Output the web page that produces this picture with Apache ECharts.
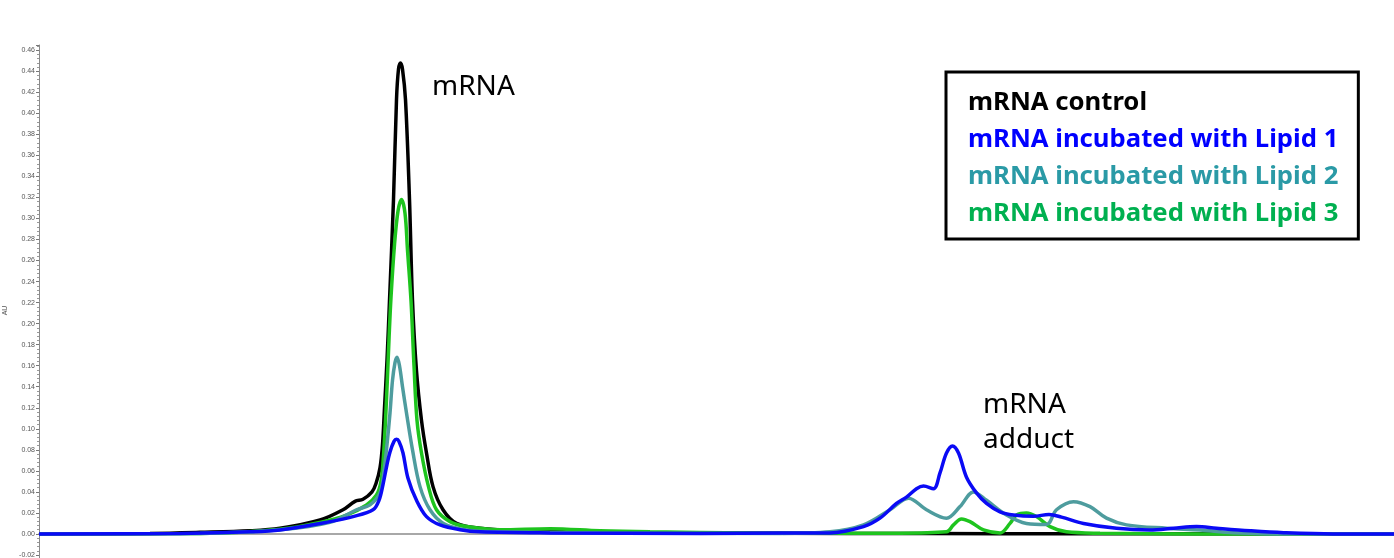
<!DOCTYPE html>
<html>
<head>
<meta charset="utf-8">
<script src="https://cdn.jsdelivr.net/npm/echarts@6/dist/echarts.min.js"></script>
<style>
html,body{margin:0;padding:0;background:#fff;overflow:hidden;}
#chart{width:1394px;height:558px;}
</style>
</head>
<body>
<div id="chart"></div>
<script>
// Retention time (arbitrary units) and absorbance (AU)
const seriesNames = ['mRNA control', 'mRNA incubated with Lipid 1', 'mRNA incubated with Lipid 2', 'mRNA incubated with Lipid 3'];

const controlData = [
  [0.00,0],[2.22,0.0005],[3.22,0.0015],[4.22,0.003],[4.82,0.0054],[5.62,0.0133],[6.08,0.023],
  [6.32,0.031],[6.48,0.033],[6.66,0.040],[6.74,0.048],[6.82,0.063],[6.87,0.085],[6.91,0.12],[6.96,0.165],[7.01,0.222],[7.09,0.318],
  [7.15,0.413],[7.19,0.442],[7.23,0.448],[7.27,0.442],[7.33,0.413],[7.41,0.318],[7.47,0.222],[7.55,0.155],[7.65,0.108],[7.75,0.077],
  [7.88,0.045],[8.08,0.023],[8.35,0.010],[8.82,0.0054],[9.62,0.003],[11.22,0.0015],[13.22,0.001],
  [16.22,0.0005],[19.22,0.0002],[27.10,0]
];

const lipid1Data = [
  [0.00,0],[2.82,0.0005],[4.22,0.002],[4.82,0.0038],[5.82,0.0117],[6.28,0.0165],[6.68,0.023],
  [6.80,0.032],[6.88,0.047],[6.96,0.066],[7.02,0.078],[7.10,0.088],[7.15,0.090],[7.20,0.088],[7.28,0.077],[7.38,0.053],[7.55,0.032],[7.75,0.0165],
  [8.02,0.0086],[8.42,0.004],[8.82,0.002],[10.22,0.001],[13.22,0.0005],[14.82,0.0008],[15.82,0.001],
  [16.49,0.007],[16.82,0.015],[17.15,0.029],[17.35,0.035],[17.55,0.043],[17.69,0.0456],[17.89,0.043],
  [18.02,0.058],[18.15,0.077],[18.27,0.0837],[18.39,0.077],[18.55,0.054],[18.75,0.039],[18.95,0.029],
  [19.22,0.021],[19.49,0.018],[19.89,0.0168],[20.20,0.0185],[20.45,0.016],[20.89,0.010],[21.55,0.0054],
  [22.22,0.0038],[22.69,0.0054],[23.15,0.007],[23.55,0.0054],[24.22,0.003],[24.89,0.0012],[25.88,0],[27.10,0]
];

const lipid2Data = [
  [0.00,0],[3.22,0.0005],[4.82,0.004],[5.82,0.011],[6.35,0.023],[6.62,0.0276],[6.82,0.039],
  [6.90,0.06],[6.96,0.085],[7.02,0.115],[7.07,0.146],[7.12,0.163],[7.16,0.168],[7.21,0.160],[7.27,0.140],
  [7.36,0.112],[7.47,0.080],[7.62,0.045],[7.82,0.023],[8.09,0.010],[8.55,0.0038],[9.22,0.002],
  [11.22,0.001],[14.82,0.0005],[15.82,0.002],[16.49,0.0086],[17.02,0.023],[17.39,0.034],[17.75,0.023],
  [18.15,0.015],[18.42,0.026],[18.69,0.040],[18.95,0.032],[19.35,0.018],[19.75,0.010],[20.15,0.009],
  [20.35,0.023],[20.69,0.0307],[21.02,0.026],[21.35,0.015],[21.75,0.0086],[22.55,0.0054],[23.22,0.0038],
  [23.88,0.0012],[25.22,0],[27.10,0]
];

const lipid3Data = [
  [0.00,0],[3.22,0.0005],[4.82,0.0045],[5.62,0.011],[6.15,0.018],[6.55,0.0276],[6.75,0.037],
  [6.84,0.05],[6.89,0.075],[6.93,0.108],[6.97,0.15],[7.00,0.185],[7.04,0.225],[7.11,0.275],[7.18,0.307],[7.25,0.318],
  [7.32,0.305],[7.37,0.27],[7.44,0.222],[7.50,0.16],[7.56,0.108],[7.65,0.077],[7.79,0.045],[7.95,0.023],
  [8.22,0.0117],[8.55,0.007],[9.22,0.004],[10.22,0.005],[11.22,0.003],[12.22,0.002],[14.22,0.001],
  [17.22,0.0007],[18.15,0.002],[18.29,0.0086],[18.45,0.0143],[18.62,0.0117],[18.89,0.0038],[19.22,0.001],
  [19.42,0.010],[19.55,0.018],[19.75,0.020],[19.95,0.0165],[20.22,0.007],[20.55,0.002],[21.22,0.0007],
  [23.22,0],[27.10,0]
];

const lineColors = ['#000000', '#0a0af5', '#4e9c9e', '#1ec41e'];
const legendColors = ['#000000', '#0000ff', '#2a9aa6', '#00b050'];
const peakLabel = 'mRNA';
const adductLabel = 'mRNA\nadduct';

const chart = echarts.init(document.getElementById('chart'));
const datasets = [controlData, lipid1Data, lipid2Data, lipid3Data];
const drawOrder = [0, 3, 2, 1];

chart.setOption({
  animation: false,
  backgroundColor: '#ffffff',
  grid: { left: 39, top: 45, right: 0, bottom: -18, containLabel: false, outerBoundsMode: 'none' },
  xAxis: {
    type: 'value', min: 0, max: 27.1, position: 'top',
    axisLine: { show: true, lineStyle: { color: '#a8a8a8', width: 2 } },
    axisTick: { show: false }, axisLabel: { show: false }, splitLine: { show: false }
  },
  yAxis: {
    type: 'value', min: -0.04, max: 0.465, interval: 0.02,
    name: 'AU', nameLocation: 'middle', nameGap: 29,
    nameTextStyle: { fontSize: 7, color: '#555', fontFamily: 'Liberation Sans' },
    axisLine: { show: true, lineStyle: { color: '#8a8a8a', width: 1 } },
    axisTick: { show: true, inside: false, length: 3, lineStyle: { color: '#777' } },
    minorTick: { show: true, splitNumber: 5, length: 2, lineStyle: { color: '#999' } },
    axisLabel: {
      fontSize: 7, color: '#555', fontFamily: 'Liberation Sans', margin: 4,
      showMaxLabel: false,
      formatter: v => v.toFixed(2)
    },
    splitLine: { show: false }
  },
  legend: {
    orient: 'vertical', left: 946, top: 72,
    icon: 'none', itemWidth: 0, itemHeight: 0, itemGap: 9,
    padding: [17, 20, 11, 17],
    borderColor: '#000', borderWidth: 3, backgroundColor: '#fff',
    selectedMode: false,
    data: seriesNames.map((n, i) => ({ name: n, textStyle: { color: legendColors[i] } })),
    textStyle: { fontFamily: 'Noto Sans', fontWeight: 'bold', fontSize: 25.7, lineHeight: 28 }
  },
  graphic: [
    { type: 'text', left: 432, top: 73, style: { text: peakLabel, font: '28px "Noto Sans"', fill: '#000' } },
    { type: 'text', left: 983, top: 388, style: { text: adductLabel, font: '28px "Noto Sans"', lineHeight: 35, fill: '#000' } }
  ],
  series: drawOrder.map(i => ({
    name: seriesNames[i], type: 'line', data: datasets[i],
    smooth: 0.35, showSymbol: false, symbol: 'none',
    lineStyle: { color: lineColors[i], width: 3.5 },
    itemStyle: { color: lineColors[i] },
    z: 2 + drawOrder.indexOf(i)
  }))
});
</script>
</body>
</html>
